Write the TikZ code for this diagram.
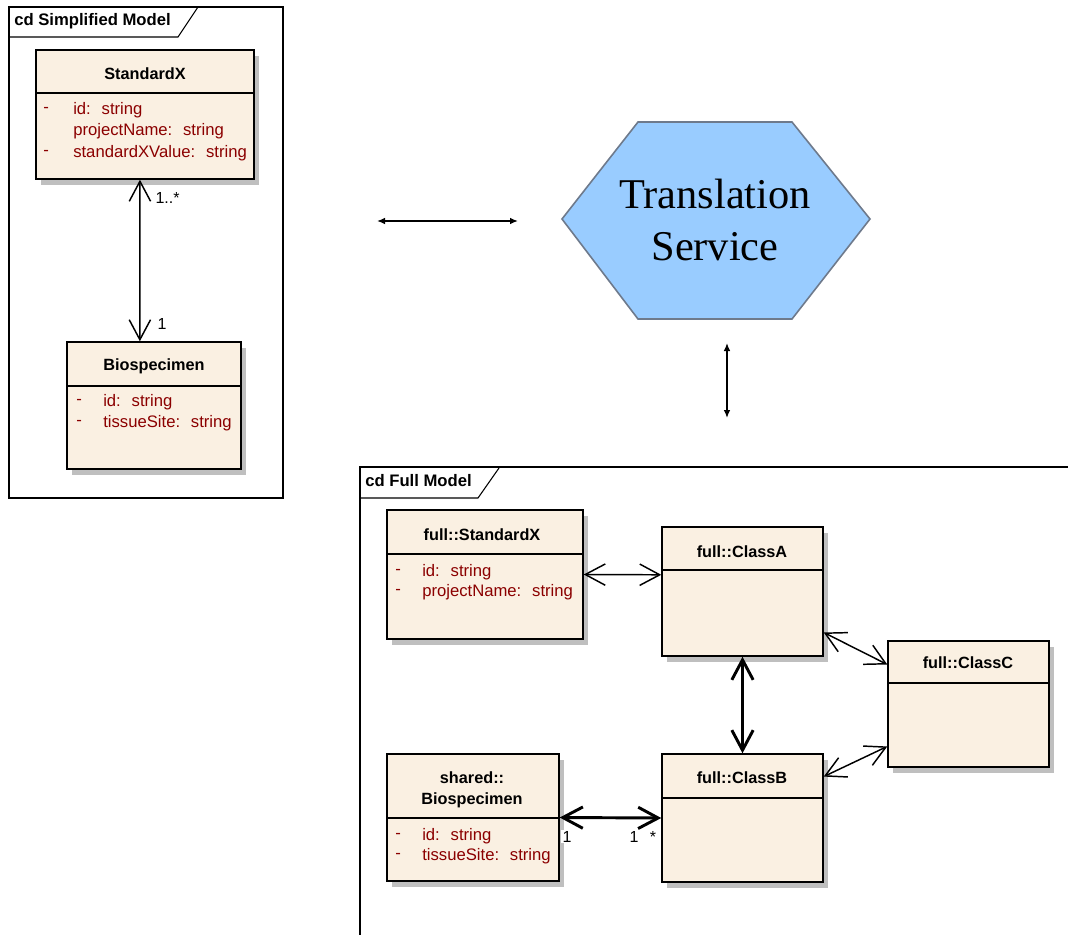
\documentclass[tikz,border=0pt]{standalone}
\usepackage{fontspec}
\setmainfont{Liberation Sans}
\newfontfamily\hexfont{Liberation Serif}
\usetikzlibrary{arrows.meta,fit,calc}

\definecolor{boxfill}{RGB}{250,240,226}
\definecolor{shadowc}{RGB}{191,191,191}
\definecolor{attrc}{RGB}{139,0,0}
\definecolor{hexfill}{RGB}{153,204,255}
\definecolor{hexline}{RGB}{110,122,140}

\tikzset{
  classbox/.style={draw=black, line width=1.1pt, fill=boxfill, inner sep=0pt},
  sepline/.style={line width=1.1pt},
  frameline/.style={line width=1.7pt},
  tabline/.style={line width=0.8pt},
  tablabel/.style={font=\fontsize{12.5}{14}\selectfont\bfseries, anchor=west, inner sep=0pt},
  classtitle/.style={font=\fontsize{12.2}{14}\selectfont\bfseries, inner sep=0pt},
  attr/.style={font=\fontsize{12.5}{14}\selectfont, text=attrc, anchor=west, inner sep=0pt},
  mult/.style={font=\fontsize{12}{14}\selectfont, inner sep=1pt, anchor=base},
  barb/.tip={Straight Barb[length=15pt,width=16pt]},
  assoc/.style={line width=1.1pt, barb-barb},
  assocbold/.style={line width=2.2pt, barb-barb},
  link/.style={line width=1.1pt, {Latex[length=6pt,width=5pt]}-{Latex[length=6pt,width=5pt]}},
  hextext/.style={font=\hexfont\fontsize{31.8}{38}\selectfont, anchor=base, inner sep=0pt},
}

% class rectangle with drop shadow and header separator:
% #1 name, #2 left, #3 top, #4 right, #5 bottom, #6 separator y
\newcommand\classrect[6]{%
  \fill[shadowc] (#2+5,#3+6) rectangle (#4+5,#5+6);
  \node[classbox, fit={(#2,#3) (#4,#5)}] (#1) {};
  \draw[sepline] (#2,#6) -- (#4,#6);
}

\begin{document}
\begin{tikzpicture}[x=0.75pt,y=-0.75pt]
\useasboundingbox (0,0) rectangle (1068,935);

% ---------- simplified model frame ----------
\draw[frameline] (9,7) rectangle (283,498);
\draw[tabline] (9,37) -- (178,37) -- (198,7);
\node[tablabel] (simptab) at (14,21) {cd Simplified Model};

\classrect{sstd}{36}{50}{254}{179}{93}
\node[classtitle] (sstdt) at (145,74) {StandardX};
\node[attr] (sa1d) at (43,110) {-};
\node[attr] (sa1) at (73,110) {id:~ string};
\node[attr] (sa2) at (73,131) {projectName:~ string};
\node[attr] (sa3d) at (43,153) {-};
\node[attr] (sa3) at (73,153) {standardXValue:~ string};

\classrect{sbio}{67}{342}{241}{469}{386}
\node[classtitle] (sbiot) at (154,366) {Biospecimen};
\node[attr] (sb1d) at (76,402) {-};
\node[attr] (sb1) at (103,402) {id:~ string};
\node[attr] (sb2d) at (76,423) {-};
\node[attr] (sb2) at (103,423) {tissueSite:~ string};

\draw[assoc] ($(sstd.south west)!0.477!(sstd.south east)$) -- ($(sbio.north west)!0.4195!(sbio.north east)$);
\node[mult, anchor=base west, fill=white] (m1) at (154,203) {1..*};
\node[mult, anchor=base west] (m2) at (156,329) {1};

% ---------- translation service ----------
\draw[draw=hexline, fill=hexfill, line width=1.2pt]
  (562,219) -- (638,122) -- (792,122) -- (870,219) -- (792,319) -- (638,319) -- cycle;
\node[hextext] (ts1) at (715,208) {Translation};
\node[hextext] (ts2) at (715,260) {Service};

\coordinate (la) at (377,221);
\coordinate (lb) at (518,221);
\draw[link] (la) -- (lb);
\coordinate (va) at (727,343);
\coordinate (vb) at (727,418);
\draw[link] (va) -- (vb);

% ---------- full model frame ----------
\draw[frameline] (1075,467) -- (360,467) -- (360,945);
\draw[tabline] (360,498) -- (478,498) -- (499,468);
\node[tablabel] (fulltab) at (365,481) {cd Full Model};

\classrect{fstd}{387}{510}{583}{639}{554}
\node[classtitle] (fstdt) at (482,535) {full::StandardX};
\node[attr] (fs1d) at (395,572) {-};
\node[attr] (fs1) at (422,572) {id:~ string};
\node[attr] (fs2d) at (395,592) {-};
\node[attr] (fs2) at (422,592) {projectName:~ string};

\classrect{fa}{662}{527}{823}{656}{570}
\node[classtitle] (fat) at (742,552) {full::ClassA};

\classrect{fc}{888}{641}{1049}{767}{683}
\node[classtitle] (fct) at (968,663) {full::ClassC};

\classrect{fb}{662}{754}{823}{882}{798}
\node[classtitle] (fbt) at (742,778) {full::ClassB};

\classrect{sbs}{387}{754}{559}{881}{818}
\node[classtitle] (sbst1) at (472,778) {shared::};
\node[classtitle] (sbst2) at (472,800) {Biospecimen};
\node[attr] (ss1d) at (395,836) {-};
\node[attr] (ss1) at (422,836) {id:~ string};
\node[attr] (ss2d) at (395,856) {-};
\node[attr] (ss2) at (422,856) {tissueSite:~ string};

% associations
\draw[assoc] (fstd.east) -- ($(fa.north west)!0.372!(fa.south west)$);
\draw[assocbold] (fa.south) -- (fb.north);
\draw[assoc] ($(fa.north east)!0.814!(fa.south east)$) -- ($(fc.north west)!0.19!(fc.south west)$);
\draw[assoc] ($(fb.north east)!0.18!(fb.south east)$) -- ($(fc.north west)!0.833!(fc.south west)$);
\draw[assocbold] (sbs.east) -- (fb.west);

\node[mult, fill=white] (m3) at (567,842) {1};
\node[mult] (m4) at (634,842) {1};
\node[mult] (m5) at (653,842) {*};
\end{tikzpicture}
\end{document}
